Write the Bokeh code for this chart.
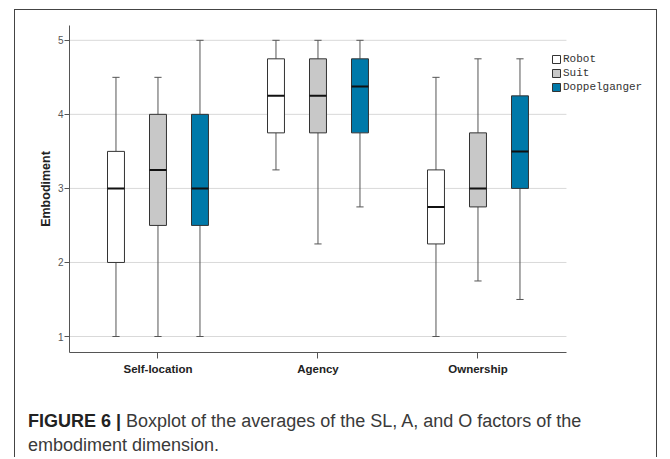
from bokeh.plotting import figure
from bokeh.models import (ColumnDataSource, Range1d, FixedTicker, Legend, LegendItem, Div,
                          InlineStyleSheet)
from bokeh.layouts import column
from bokeh.embed import file_html
from bokeh.resources import INLINE

# ---- data ----
groups = ["Self-location", "Agency", "Ownership"]
series = ["Robot", "Suit", "Doppelganger"]
colors = ["#FFFFFF", "#C8C8C8", "#0079A9"]

robot_low    = [1.0, 3.25, 1.0]
robot_q1     = [2.0, 3.75, 2.25]
robot_median = [3.0, 4.25, 2.75]
robot_q3     = [3.5, 4.75, 3.25]
robot_high   = [4.5, 5.0, 4.5]

suit_low    = [1.0, 2.25, 1.75]
suit_q1     = [2.5, 3.75, 2.75]
suit_median = [3.25, 4.25, 3.0]
suit_q3     = [4.0, 4.75, 3.75]
suit_high   = [4.5, 5.0, 4.75]

dopp_low    = [1.0, 2.75, 1.5]
dopp_q1     = [2.5, 3.75, 3.0]
dopp_median = [3.0, 4.375, 3.5]
dopp_q3     = [4.0, 4.75, 4.25]
dopp_high   = [5.0, 5.0, 4.75]

y_ticks = [1, 2, 3, 4, 5]
y_label = "Embodiment"
caption_bold = "FIGURE 6 |"
caption_line1 = "Boxplot of the averages of the SL, A, and O factors of the"
caption_line2 = "embodiment dimension."

stats = {
    "Robot": (robot_low, robot_q1, robot_median, robot_q3, robot_high),
    "Suit": (suit_low, suit_q1, suit_median, suit_q3, suit_high),
    "Doppelganger": (dopp_low, dopp_q1, dopp_median, dopp_q3, dopp_high),
}

# ---- geometry ----
W = 643
H_MAIN = 380
H_CAP = 68
PX_PER_GROUP = 160.0
x_start = -0.053
x_end_axis = len(groups) + 0.053
frame_w = W - 54
x_range = Range1d(x_start, x_start + frame_w / PX_PER_GROUP)
group_pos = [i + 0.5 for i in range(len(groups))]
BORDER = "1px solid #444444"

p = figure(width=W, height=H_MAIN, output_backend="svg", toolbar_location=None,
           x_range=x_range, y_range=Range1d(0.784, 5.2),
           min_border_left=54, min_border_right=0, min_border_top=15,
           min_border_bottom=38)
p.margin = 0
p.stylesheets = [InlineStyleSheet(css=(
    ":host { border-top: %s !important; border-left: %s !important; "
    "border-right: %s !important; }" % (BORDER, BORDER, BORDER)))]
p.outline_line_color = None
p.background_fill_color = "white"
p.border_fill_color = "white"
p.grid.grid_line_color = None

# horizontal grid lines, limited to the axis extent
grid_src = ColumnDataSource(dict(y=y_ticks, x0=[x_start] * len(y_ticks),
                                 x1=[x_end_axis] * len(y_ticks)))
p.segment(x0="x0", y0="y", x1="x1", y1="y", source=grid_src,
          line_color="#D9D9D9", line_width=1)

p.yaxis.ticker = FixedTicker(ticks=y_ticks)
p.xaxis.ticker = FixedTicker(ticks=group_pos)
p.xaxis.major_label_overrides = {pos: g for pos, g in zip(group_pos, groups)}
p.xaxis.bounds = (x_start, x_end_axis)

for ax in (p.xaxis[0], p.yaxis[0]):
    ax.axis_line_color = "#555555"
    ax.major_tick_line_color = "#555555"
    ax.minor_tick_line_color = None
    ax.major_tick_in = 0

p.yaxis.major_tick_out = 5
p.yaxis.major_label_standoff = 1
p.yaxis.major_label_text_font = "Liberation Sans"
p.yaxis.major_label_text_font_size = "10px"
p.yaxis.major_label_text_color = "#555555"
p.yaxis.axis_label = y_label
p.yaxis.axis_label_text_font = "Liberation Sans"
p.yaxis.axis_label_text_font_style = "bold"
p.yaxis.axis_label_text_font_size = "12.5px"
p.yaxis.axis_label_text_color = "#222222"
p.yaxis.axis_label_standoff = 2

p.xaxis.major_tick_out = 6
p.xaxis.major_label_standoff = 4
p.xaxis.major_label_text_font = "Liberation Sans"
p.xaxis.major_label_text_font_style = "bold"
p.xaxis.major_label_text_font_size = "11.5px"
p.xaxis.major_label_text_color = "#222222"

offsets = [-0.2625, 0.0, 0.2625]
box_w = 0.106
cap_w = 0.045

legend_items = []
for name, col, off in zip(series, colors, offsets):
    low, q1, med, q3, high = stats[name]
    xc = [gp + off for gp in group_pos]
    src = ColumnDataSource(dict(
        x=xc,
        xl=[x - cap_w / 2 for x in xc], xr=[x + cap_w / 2 for x in xc],
        bl=[x - box_w / 2 for x in xc], br=[x + box_w / 2 for x in xc],
        low=low, q1=q1, med=med, q3=q3, high=high))
    # whiskers
    p.segment(x0="x", y0="q3", x1="x", y1="high", source=src, line_color="#555555", line_width=1)
    p.segment(x0="x", y0="q1", x1="x", y1="low", source=src, line_color="#555555", line_width=1)
    # caps
    p.segment(x0="xl", y0="high", x1="xr", y1="high", source=src, line_color="#555555", line_width=1)
    p.segment(x0="xl", y0="low", x1="xr", y1="low", source=src, line_color="#555555", line_width=1)
    # boxes
    r = p.vbar(x="x", width=box_w, bottom="q1", top="q3", source=src,
               fill_color=col, line_color="#333333", line_width=1)
    # medians
    p.segment(x0="bl", y0="med", x1="br", y1="med", source=src, line_color="#111111", line_width=2)
    legend_items.append(LegendItem(label=name, renderers=[r]))

legend = Legend(items=legend_items, location=(482, 259), orientation="vertical",
                glyph_width=10, glyph_height=10, label_height=10, spacing=2,
                padding=0, margin=0, label_standoff=2,
                label_text_font="Liberation Mono", label_text_font_size="11px",
                label_text_color="#333333", border_line_color=None,
                background_fill_color=None)
p.add_layout(legend, "center")

# ---- caption ----
caption_html = (
    '<div style="padding:20px 0 0 13px; margin:0; white-space:nowrap; '
    'font-family:\'Liberation Sans\', Arial, sans-serif; font-size:18px; '
    'line-height:24px; color:#3A3A3A;">'
    '<span style="font-weight:bold; color:#222222;">' + caption_bold + '</span> '
    + caption_line1 + '<br>' + caption_line2 + '</div>'
)
cap = Div(text=caption_html, width=W, height=H_CAP, margin=0,
          styles={"border-left": BORDER, "border-right": BORDER,
                  "background-color": "white"})

layout = column(p, cap, spacing=0, margin=(9, 0, 0, 14))

open("out.html", "w").write(file_html(layout, INLINE))
